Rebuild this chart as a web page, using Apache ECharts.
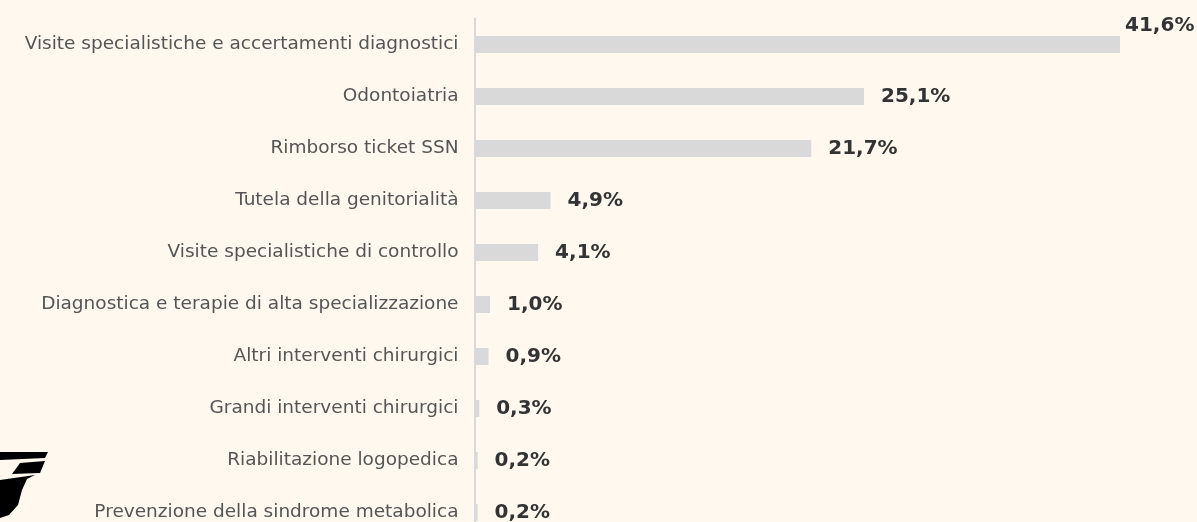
<!DOCTYPE html>
<html><head><meta charset="utf-8">
<script src="https://cdn.jsdelivr.net/npm/echarts@6/dist/echarts.min.js"></script>
<style>html,body{margin:0;padding:0;background:#fef8ee;overflow:hidden;width:1197px;height:522px;}#c{width:1197px;height:560px;}</style>
</head><body><div id="c"></div>
<script>
const categories = [
  "Visite specialistiche e accertamenti diagnostici",
  "Odontoiatria",
  "Rimborso ticket SSN",
  "Tutela della genitorialità",
  "Visite specialistiche di controllo",
  "Diagnostica e terapie di alta specializzazione",
  "Altri interventi chirurgici",
  "Grandi interventi chirurgici",
  "Riabilitazione logopedica",
  "Prevenzione della sindrome metabolica"
];
const values = [41.6, 25.1, 21.7, 4.9, 4.1, 1.0, 0.9, 0.3, 0.2, 0.2];

const chart = echarts.init(document.getElementById('c'), null, {renderer:'canvas'});
const data = values.map((v, i) => {
  const d = {value: v};
  if (i === 0) d.label = {distance: 5, offset: [0, -19]};
  return d;
});
chart.setOption({
  backgroundColor: '#fef8ee',
  animation: false,
  grid: {left: 474.5, right: 24.2, top: 18.5, height: 520},
  xAxis: {type: 'value', min: 0, max: 45, show: false},
  yAxis: {
    type: 'category', inverse: true, data: categories,
    axisLine: {show: true, lineStyle: {color: '#d9d9d9', width: 2}},
    axisTick: {show: false},
    axisLabel: {color: '#555', fontSize: 18.5, fontFamily: 'DejaVu Sans', margin: 16}
  },
  series: [{
    type: 'bar', data: data, barWidth: 17,
    itemStyle: {color: '#d9d9d9'},
    label: {
      show: true, position: 'right', distance: 17,
      color: '#333', fontWeight: 'bold', fontSize: 20, fontFamily: 'DejaVu Sans',
      formatter: p => p.value.toFixed(1).replace('.', ',') + '%'
    }
  }],
  graphic: [
    {type: 'polygon', shape: {points: [[0,452],[48,452],[45,458],[0,460]]}, style: {fill: '#000'}},
    {type: 'polygon', shape: {points: [[20,463],[45,461],[40,473],[12,474]]}, style: {fill: '#000'}},
    {type: 'polygon', shape: {points: [[0,480],[35,475],[27,479],[22,490],[18,505],[9,515],[0,518]]}, style: {fill: '#000'}}
  ]
});
</script></body></html>
